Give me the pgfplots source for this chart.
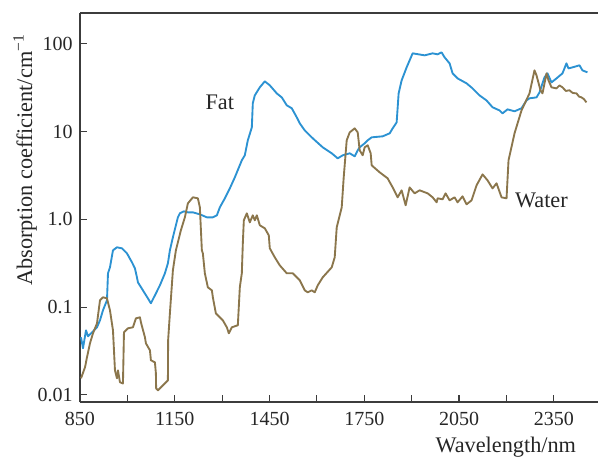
\documentclass[border=0pt]{standalone}
\usepackage{pgfplots}
\pgfplotsset{compat=1.18}
\usepackage{fontspec}
\setmainfont{Liberation Serif}
\usetikzlibrary{calc}
\definecolor{fatblue}{RGB}{44,146,210}
\definecolor{waterbrown}{RGB}{139,118,76}
\definecolor{axgray}{RGB}{60,60,60}
\begin{document}
\begin{tikzpicture}
\begin{axis}[
  scale only axis,
  width=388.5pt, height=291.75pt,
  xmin=850, xmax=2490,
  ymode=log, log basis y=10,
  ymin=0.0083, ymax=224,
  axis x line*=box, axis y line*=left,
  axis line style={axgray, line width=0.9pt},
  tick pos=left,
  tick align=inside,
  major tick length=5pt, minor tick length=5pt,
  tick style={axgray, line width=0.8pt},
  xtick={850,1150,1450,1750,2050,2350},
  minor xtick={1000,1300,1600,1900,2200},
  ytick={0.01,0.1,1,10,100},
  yticklabels={0.01,0.1,1.0,10,100},
  yminorticks=false,
  /pgf/number format/assume math mode=true,
  /pgf/number format/1000 sep={},
  ticklabel style={font=\fontsize{15}{18}\selectfont, text=black!85},
  xticklabel style={yshift=-4pt},
  yticklabel style={xshift=-2pt},
  xlabel={Wavelength/nm},
  ylabel={Absorption coefficient/cm\textsuperscript{−1}},
  label style={font=\fontsize{16.7}{20}\selectfont, text=black!85},
  xlabel style={at={(axis description cs:0.822,0)}, anchor=north, yshift=-22.5pt},
  ylabel style={at={(axis description cs:-0.106,0.622)}, anchor=center},
  clip=false,
]
\addplot[fatblue, line width=1.4pt, line join=round] coordinates {
(853.2,0.0453)(859.5,0.0340)(869,0.0544)(875.3,0.0465)(888,0.0516)(894.3,0.0544)(903.8,0.0589)(913.3,0.0708)(922.7,0.0920)(935.4,0.1195)(938.6,0.2427)(944.9,0.2840)(954.4,0.4436)(967,0.480)(982.8,0.4677)(998.6,0.410)(1014.5,0.324)(1023.9,0.2766)(1030.3,0.2185)(1033.4,0.1915)(1049.2,0.1553)(1065,0.1259)(1074.5,0.1105)(1087.2,0.1362)(1103,0.1771)(1118.8,0.2427)(1128.3,0.3155)(1134.6,0.4436)(1144.1,0.6237)(1159.9,1.054)(1166.3,1.170)(1178.9,1.233)(1191.6,1.201)(1207.4,1.201)(1229.5,1.140)(1251.6,1.054)(1270.6,1.054)(1283.3,1.111)(1292.8,1.370)(1308.6,1.735)(1324.4,2.255)(1340.2,3.008)(1362.3,4.70)(1371.8,5.36)(1381.3,7.94)(1394,11.16)(1397.1,20.96)(1403.4,25.8)(1419.3,31.9)(1435.1,37.3)(1450.9,33.6)(1473,27.2)(1488.8,24.5)(1504.6,19.9)(1520.5,18.4)(1536.3,14.5)(1545.8,12.4)(1561.6,10.3)(1586.9,8.37)(1618.5,6.61)(1647,5.65)(1665.9,4.95)(1681.7,5.36)(1703.9,5.65)(1719.7,5.22)(1729.2,6.11)(1735.5,6.61)(1751.3,7.34)(1760.8,7.94)(1773.5,8.59)(1808.2,8.82)(1830.4,9.54)(1839.9,10.87)(1852.5,12.73)(1858.8,27.2)(1868.3,38.3)(1884.1,53.8)(1903.1,77.8)(1941.1,73.8)(1966.4,77.8)(1982.2,75.7)(1994.8,79.8)(2004.3,70.0)(2020.1,59.8)(2029.6,46.0)(2045.4,40.3)(2073.9,35.4)(2092.9,31.0)(2115,25.8)(2137.1,22.6)(2156.1,18.9)(2178.2,17.4)(2187.7,16.1)(2203.5,17.9)(2225.7,17.0)(2247.8,18.4)(2263.6,22.6)(2273.1,23.9)(2295.3,24.5)(2304.8,27.9)(2320.6,41.4)(2330,46.0)(2342.7,36.3)(2358.5,40.3)(2377.5,46.0)(2390.1,59.8)(2396.5,52.4)(2409.1,53.8)(2431.3,56.8)(2440.7,49.8)(2456.5,47.2)
};
\addplot[waterbrown, line width=1.4pt, line join=round] coordinates {
(853.2,0.01545)(865.8,0.0206)(872.1,0.0268)(881.6,0.0387)(891.1,0.0503)(903.8,0.0654)(913.3,0.1195)(922.7,0.1294)(935.4,0.1259)(944.9,0.0920)(954.4,0.0544)(960.7,0.01905)(967,0.01545)(970.2,0.01905)(976.5,0.01393)(986,0.0135)(989.2,0.0516)(1001.8,0.0574)(1017.6,0.0589)(1027.1,0.0745)(1039.8,0.0765)(1042.9,0.0671)(1055.6,0.0453)(1058.7,0.0387)(1071.4,0.0322)(1074.5,0.0248)(1087.2,0.0235)(1090.3,0.0176)(1091,0.01189)(1096.7,0.01128)(1112.5,0.01286)(1128.3,0.01466)(1129,0.0419)(1134.6,0.0850)(1144.1,0.2626)(1153.6,0.4436)(1169.4,0.750)(1182,1.054)(1191.6,1.521)(1207.4,1.781)(1223.2,1.735)(1229.5,1.370)(1235.8,0.4436)(1239,0.410)(1245.3,0.2427)(1254.8,0.168)(1267.5,0.1553)(1270.6,0.1294)(1280.1,0.0850)(1292.8,0.0765)(1302.2,0.0708)(1314.9,0.0589)(1321.2,0.0503)(1330.7,0.0589)(1349.7,0.0621)(1356,0.168)(1362.3,0.2427)(1365.5,0.533)(1368.7,0.974)(1378.1,1.170)(1387.6,0.924)(1397.1,1.111)(1403.4,0.974)(1409.8,1.111)(1419.3,0.855)(1435.1,0.790)(1447.7,0.657)(1450.9,0.4677)(1466.7,0.369)(1482.5,0.299)(1504.6,0.2427)(1523.6,0.2427)(1539.4,0.2128)(1545.8,0.202)(1561.6,0.1553)(1571,0.1475)(1583.7,0.1553)(1593.2,0.1475)(1602.7,0.1771)(1618.5,0.2185)(1647,0.284)(1656.4,0.369)(1662.8,0.811)(1678.6,1.370)(1684.9,3.01)(1694.4,7.94)(1703.9,9.79)(1719.7,10.87)(1729.2,9.79)(1735.5,6.11)(1745,5.36)(1751.3,6.61)(1760.8,6.97)(1770.3,5.65)(1773.5,4.12)(1798.8,3.43)(1824,2.93)(1839.9,2.31)(1855.7,1.781)(1868.3,2.14)(1881,1.444)(1893.6,2.31)(1909.4,1.977)(1925.3,2.14)(1950.6,1.977)(1966.4,1.781)(1979,1.562)(1982.2,1.735)(1998,1.690)(2007.5,1.977)(2020.1,1.646)(2036,1.781)(2045.4,1.562)(2061.2,1.828)(2073.9,1.482)(2089.7,1.646)(2105.5,2.44)(2124.5,3.25)(2140.3,2.78)(2156.1,2.25)(2168.8,2.57)(2184.6,1.781)(2200.4,1.735)(2206.7,4.70)(2225.7,9.54)(2247.8,17.4)(2273.1,27.2)(2288.9,49.8)(2295.3,43.6)(2307.9,29.5)(2314.2,27.2)(2326.9,46.0)(2333.2,38.3)(2342.7,31.9)(2358.5,31.0)(2368,33.5)(2377.5,31.9)(2388,29.0)(2399.6,29.5)(2410,27.5)(2421.8,27.2)(2430,25.0)(2437.6,24.5)(2445,23.5)(2453.4,21.5)
};
\node[font=\fontsize{16.7}{20}\selectfont, text=black!85] at (axis cs:1292.75,21.5) {Fat};
\node[font=\fontsize{16.7}{20}\selectfont, text=black!85] at (axis cs:2311,1.645) {Water};
\end{axis}
\pgfresetboundingbox
\path ($(current axis.south west)+(-60pt,-43.5pt)$) rectangle ($(current axis.north east)+(0pt,9.75pt)$);
\end{tikzpicture}
\end{document}
